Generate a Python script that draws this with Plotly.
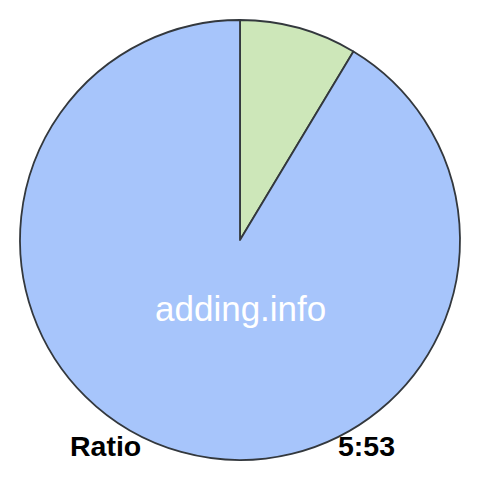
import plotly.graph_objects as go

# ratio 5:53
labels = ["5", "53"]
values = [5, 53]
colors = ["#cde7b9", "#a7c5fb"]
left_label = "Ratio"
right_label = "5:53"
watermark = "adding.info"

# the page body has an 8px margin, so the figure is 464px and sits inside 480px
W = 464

fig = go.Figure(go.Pie(
    labels=labels,
    values=values,
    sort=False,
    direction="clockwise",
    rotation=0,
    marker=dict(colors=colors, line=dict(color="#33383d", width=1.8)),
    textinfo="none",
    hoverinfo="none",
    domain=dict(x=[12 / W, 452 / W], y=[12 / W, 452 / W]),
))

font = "Liberation Sans, Arial"
fig.add_annotation(text=watermark, x=0.5, y=1 - 300 / W, xref="paper", yref="paper",
                   showarrow=False, font=dict(family=font, size=35, color="white"))
fig.add_annotation(text="<b>" + left_label + "</b>", x=60 / W, y=1 - 456 / W, xref="paper", yref="paper",
                   xanchor="left", showarrow=False, font=dict(family=font, size=28.5, color="black"))
fig.add_annotation(text="<b>" + right_label + "</b>", x=389 / W, y=1 - 456 / W, xref="paper", yref="paper",
                   xanchor="right", showarrow=False, font=dict(family=font, size=28.5, color="black"))

fig.update_layout(
    width=W, height=W,
    margin=dict(l=0, r=0, t=0, b=0),
    showlegend=False,
    paper_bgcolor="white",
    plot_bgcolor="white",
)

fig.write_html("out.html")
